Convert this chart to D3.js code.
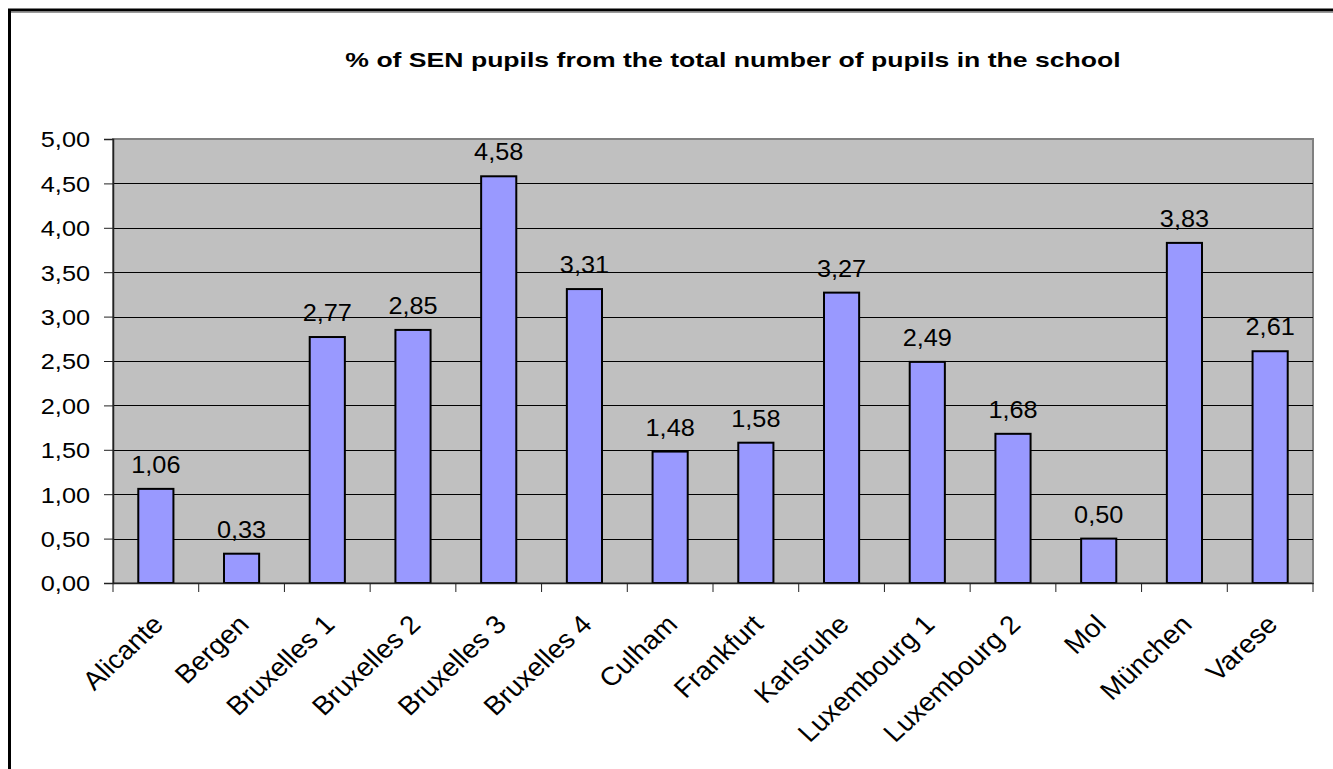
<!DOCTYPE html>
<html>
<head>
<meta charset="utf-8">
<script src="https://cdn.jsdelivr.net/npm/d3@7"></script>
<style>
  body { margin: 0; background: #fff; }
  text { font-family: Arial, "Liberation Sans", sans-serif; fill: #000; }
</style>
</head>
<body>
<script>
// data
const schools = ['Alicante', 'Bergen', 'Bruxelles 1', 'Bruxelles 2', 'Bruxelles 3', 'Bruxelles 4',
  'Culham', 'Frankfurt', 'Karlsruhe', 'Luxembourg 1', 'Luxembourg 2', 'Mol', 'München', 'Varese']
const senShare = [1.06, 0.33, 2.77, 2.85, 4.58, 3.31, 1.48, 1.58, 3.27, 2.49, 1.68, 0.50, 3.83, 2.61]
const yTicks = [0, 0.5, 1, 1.5, 2, 2.5, 3, 3.5, 4, 4.5, 5]
const title = '% of SEN pupils from the total number of pupils in the school'

const width = 1333,
  height = 769,
  plot = { left: 113, right: 1313, top: 139, bottom: 583 }

const fmt = (v) => v.toFixed(2).replace('.', ',')

const svg = d3.select('body').append('svg')
  .attr('width', width)
  .attr('height', height)

// outer frame
svg.append('rect')
  .attr('x', 9.5).attr('y', 10)
  .attr('width', 1360).attr('height', 800)
  .attr('fill', 'none')
  .attr('stroke', '#000')
  .attr('stroke-width', 3)
svg.append('line')
  .attr('x1', 11).attr('x2', width).attr('y1', 12.5).attr('y2', 12.5)
  .attr('stroke', '#999').attr('stroke-width', 1)

// scales
const x = d3.scaleBand()
  .domain(schools)
  .range([plot.left, plot.right])
  .paddingInner(0.59)
  .paddingOuter(0.295)

const band = d3.scaleBand().domain(schools).range([plot.left, plot.right])

const y = d3.scaleLinear()
  .domain([0, 5])
  .range([plot.bottom, plot.top])

// plot background
svg.append('rect')
  .attr('x', plot.left).attr('y', plot.top)
  .attr('width', plot.right - plot.left)
  .attr('height', plot.bottom - plot.top)
  .attr('fill', '#c0c0c0')
  .attr('stroke', '#808080')
  .attr('stroke-width', 2)

// gridlines
svg.append('g')
  .selectAll('line')
  .data(yTicks.filter((d) => d > 0 && d < 5))
  .join('line')
  .attr('x1', plot.left).attr('x2', plot.right)
  .attr('y1', (d) => Math.round(y(d)) + 0.5)
  .attr('y2', (d) => Math.round(y(d)) + 0.5)
  .attr('stroke', '#000')
  .attr('stroke-width', 1)

// y axis
const yAxis = svg.append('g')
  .attr('transform', `translate(${plot.left},0)`)
  .call(d3.axisLeft(y).tickValues(yTicks).tickSize(9).tickPadding(14).tickFormat(fmt))
yAxis.select('.domain').attr('stroke', '#222').attr('stroke-width', 1.5)
yAxis.selectAll('.tick line').attr('stroke', '#222')
yAxis.selectAll('.tick text')
  .attr('font-size', 22)
  .attr('font-family', 'Arial, "Liberation Sans", sans-serif')
  .attr('dy', '0.36em')
  .attr('transform', 'scale(1.15,1)')
  .attr('x', -14 / 1.15 - 9 / 1.15)

// bars
svg.append('g')
  .selectAll('rect')
  .data(senShare)
  .join('rect')
  .attr('x', (d, i) => x(schools[i]))
  .attr('y', (d) => y(d))
  .attr('width', x.bandwidth())
  .attr('height', (d) => y(0) - y(d))
  .attr('fill', '#9999ff')
  .attr('stroke', '#000')
  .attr('stroke-width', 2)

// value labels
svg.append('g')
  .selectAll('text')
  .data(senShare)
  .join('text')
  .attr('transform', (d, i) =>
    `translate(${x(schools[i]) + x.bandwidth() / 2},${y(d) - 16}) scale(1.1,1)`)
  .attr('text-anchor', 'middle')
  .attr('font-size', 23)
  .text(fmt)

// x axis
const xAxis = svg.append('g')
  .attr('transform', `translate(0,${plot.bottom})`)
  .call(d3.axisBottom(band).tickSize(0).tickFormat(''))
xAxis.select('.domain').attr('stroke', '#222').attr('stroke-width', 1.5)

// category boundary ticks
svg.append('g')
  .selectAll('line')
  .data(schools.concat(['__end']))
  .join('line')
  .attr('x1', (d, i) => plot.left + i * band.step())
  .attr('x2', (d, i) => plot.left + i * band.step())
  .attr('y1', plot.bottom)
  .attr('y2', plot.bottom + 9)
  .attr('stroke', '#222')

// rotated category labels
svg.append('g')
  .selectAll('text')
  .data(schools)
  .join('text')
  .attr('transform', (d) =>
    `translate(${band(d) + band.bandwidth() / 2 + 9},${plot.bottom + 43}) scale(1.08,1) rotate(-45)`)
  .attr('text-anchor', 'end')
  .attr('font-size', 26)
  .text((d) => d)

// title
svg.append('text')
  .attr('transform', `translate(733,67) scale(1.33,1)`)
  .attr('text-anchor', 'middle')
  .attr('font-size', 20)
  .attr('font-weight', 'bold')
  .text(title)
</script>
</body>
</html>
